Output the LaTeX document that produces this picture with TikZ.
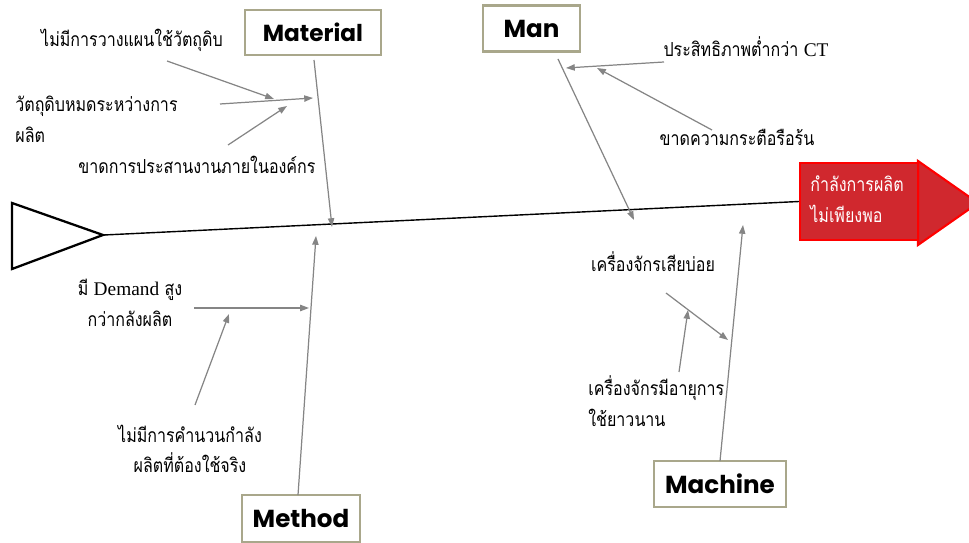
\documentclass[tikz,border=0pt]{standalone}
\usepackage{fontspec}
\newfontfamily\thaifont[Script=Thai,FakeStretch=0.83]{Loma}
\newfontfamily\latinfont{Liberation Serif}
\newfontfamily\headfont{Poppins}
\usetikzlibrary{arrows.meta}
\definecolor{boxgray}{HTML}{A9A78B}
\definecolor{bonegray}{HTML}{858585}
\definecolor{effred}{HTML}{D0282E}
\tikzset{
  category/.style={draw=boxgray, line width=1.6pt, fill=white, inner sep=0pt,
    font=\headfont\bfseries\fontsize{14}{16}\selectfont},
  cause/.style={font=\thaifont\fontsize{11}{17.5}\selectfont, inner sep=0pt},
  bone/.style={draw=bonegray, line width=0.7pt, -{Triangle[length=5pt,width=3.6pt]}},
  spine/.style={line width=0.8pt},
}

\begin{document}
\begin{tikzpicture}[x=0.02cm, y=-0.02cm]
  \useasboundingbox (0,0) rectangle (969,543);
  \clip (0,0) rectangle (969,543);

  % Head of the fish (effect)
  \fill[effred, draw=red, line width=1.2pt] (918,161) -- (978,203) -- (918,245) -- cycle;
  \node (effect) [fill=effred, draw=red, line width=1.2pt, minimum width=2.36cm,
    minimum height=1.54cm, inner sep=0pt] at (859,201.5) {};
  \node (efftext) [cause, text=white, align=left, anchor=west] at (810,199)
    {กำลังการผลิต\\ไม่เพียงพอ};

  % Tail and spine
  \draw[line width=1.3pt] (12,203) -- (103,235) -- (12,269) -- cycle;
  \coordinate (tail) at (104,235);
  \draw[spine] (tail) -- (effect.west);

  % Categories
  \node (material) [category, minimum width=2.72cm, minimum height=0.9cm] at (313,32.5)
    {\fontsize{13.2}{16}\selectfont Material};
  \node (man) [category, minimum width=1.94cm, minimum height=0.92cm] at (531.5,28.5) {Man};
  \node (method) [category, minimum width=2.36cm, minimum height=0.94cm] at (301,518.5) {Method};
  \node (machine) [category, minimum width=2.64cm, minimum height=0.92cm] at (720,484) {Machine};

  % Main bones
  \coordinate (matTop) at (314,60);
  \coordinate (matEnd) at (332,227);
  \coordinate (manTop) at (558,59);
  \coordinate (manEnd) at (634,220);
  \coordinate (metBot) at (298,495);
  \coordinate (metEnd) at (316,236);
  \coordinate (macBot) at (720,461);
  \coordinate (macEnd) at (743,225);
  \draw[bone] (matTop) -- (matEnd);
  \draw[bone] (manTop) -- (manEnd);
  \draw[bone] (metBot) -- (metEnd);
  \draw[bone] (macBot) -- (macEnd);

  % Material causes
  \node (mat1) [cause] at (132,40) {ไม่มีการวางแผนใช้วัตถุดิบ};
  \node (mat2) [cause, align=left, anchor=west] at (15,119.5) {วัตถุดิบหมดระหว่างการ\\ผลิต};
  \node (mat3) [cause] at (197,165) {ขาดการประสานงานภายในองค์กร};
  \coordinate (m1s) at (167,61);   \coordinate (m1e) at (274,99);
  \coordinate (m2s) at (220,104);  \coordinate (m2e) at (313,98);
  \coordinate (m3s) at (228,145);  \coordinate (m3e) at (287,106);
  \draw[bone] (m1s) -- (m1e);
  \draw[bone] (m2s) -- (m2e);
  \draw[bone] (m3s) -- (m3e);

  % Man causes
  \node (man1) [cause] at (746,47) {ประสิทธิภาพต่ำกว่า {\latinfont CT}};
  \node (man2) [cause] at (737,137) {ขาดความกระตือรือร้น};
  \coordinate (n1s) at (664,62);   \coordinate (n1e) at (566,68);
  \coordinate (n2s) at (712,130);  \coordinate (n2e) at (597,68);
  \draw[bone] (n1s) -- (n1e);
  \draw[bone] (n2s) -- (n2e);

  % Method causes
  \node (met1) [cause, align=center] at (130,303) {มี {\latinfont Demand} สูง\\กว่ากลังผลิต};
  \node (met2) [cause, align=center] at (190,449) {ไม่มีการคำนวนกำลัง\\ผลิตที่ต้องใช้จริง};
  \coordinate (t1s) at (194,308);  \coordinate (t1e) at (309,308);
  \coordinate (t2s) at (195,405);  \coordinate (t2e) at (229,314);
  \draw[bone] (t1s) -- (t1e);
  \draw[bone] (t2s) -- (t2e);

  % Machine causes
  \node (mac1) [cause] at (653,262) {เครื่องจักรเสียบ่อย};
  \node (mac2) [cause, align=left, anchor=west] at (588,401) {เครื่องจักรมีอายุการ\\ใช้ยาวนาน};
  \coordinate (c1s) at (666,293);  \coordinate (c1e) at (728,340);
  \coordinate (c2s) at (679,372);  \coordinate (c2e) at (688,310);
  \draw[bone] (c1s) -- (c1e);
  \draw[bone] (c2s) -- (c2e);
\end{tikzpicture}
\end{document}
